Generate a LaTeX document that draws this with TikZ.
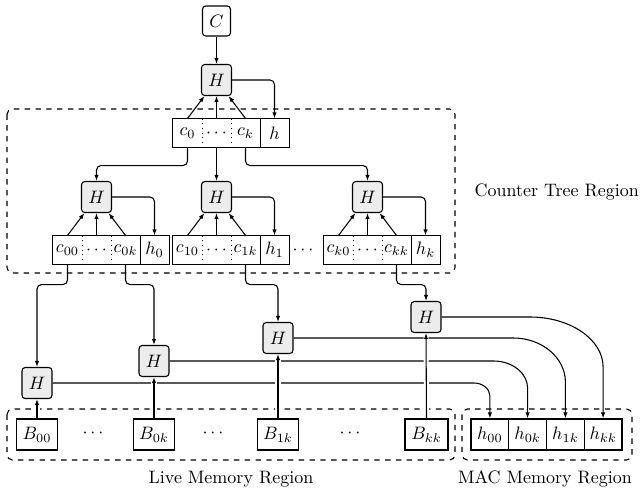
\documentclass[tikz,border=0pt]{standalone}
\usetikzlibrary{arrows.meta,calc}
\def\upx{0.5556pt}
\tikzset{
  every path/.style={line width=0.6pt},
  hbox/.style={draw, rounded corners=1.8pt, fill=gray!15, minimum width=30*\upx, minimum height=31*\upx, inner sep=0pt},
  cbox/.style={draw, rounded corners=1.8pt, fill=white, minimum width=28*\upx, minimum height=30*\upx, inner sep=0pt},
  cell/.style={minimum width=29*\upx, minimum height=28*\upx, inner sep=0pt},
  bbox/.style={draw, minimum width=41*\upx, minimum height=31*\upx, inner sep=0pt},
  mbox/.style={draw, minimum width=37.75*\upx, minimum height=31*\upx, inner sep=0pt},
  arr/.style={-{Latex[length=3.4pt,width=2.5pt]}},
  conn/.style={arr, rounded corners=2.5pt},
  region/.style={draw, dashed, rounded corners=3pt},
  halo/.style={draw=white, line width=2.8pt, shorten <=1pt, shorten >=1pt},
}
\begin{document}
\begin{tikzpicture}[x=0.5556pt, y=-0.5556pt]
\useasboundingbox (0,0) rectangle (644,490);

% regions
\draw[region] (7,109) rectangle (455,273);
\draw[region] (7,409) rectangle (455,460);
\draw[region] (462,409) rectangle (632,460);
\node[anchor=west] (lct) at (468,192) {Counter Tree Region};
\node (llm) at (231,479) {Live Memory Region};
\node (lmm) at (545,479) {MAC Memory Region};

% top
\node[cbox] (C) at (216.5,21) {$C$};
\node[hbox] (H0) at (216.5,80) {$H$};
\node[cell] (t0) at (187.5,133) {$c_0$};
\node[cell] (t1) at (216.5,133) {$\cdots$};
\node[cell] (t2) at (245.5,133) {$c_k$};
\node[cell] (th) at (274.5,133) {$h$};
\draw (t0.north west) rectangle (th.south east);
\draw[dotted] (t0.north east) -- (t0.south east);
\draw[dotted] (t1.north east) -- (t1.south east);
\draw (t2.north east) -- (t2.south east);
\draw[arr] (C) -- (H0);
\draw[arr] (t0.north) -- (H0);
\draw[arr] (t1.north) -- (H0);
\draw[arr] (t2.north) -- (H0);
\draw[conn] (H0.east) -| (th.north);

% level 2 hashes
\node[hbox] (HA) at (96.5,197) {$H$};
\node[hbox] (HB) at (216.5,197) {$H$};
\node[hbox] (HC) at (367.5,197) {$H$};
\draw[conn] (t0.south) -- ++(0,18) -| (HA.north);
\draw[arr] (t1.south) -- (HB.north);
\draw[conn] (t2.south) -- ++(0,18) -| (HC.north);

% level 2 arrays
\node[cell] (a0) at (67.5,250) {$c_{00}$};
\node[cell] (a1) at (96.5,250) {$\cdots$};
\node[cell] (a2) at (125.5,250) {$c_{0k}$};
\node[cell] (ah) at (154.5,250) {$h_0$};
\node[cell] (b0) at (187.5,250) {$c_{10}$};
\node[cell] (b1) at (216.5,250) {$\cdots$};
\node[cell] (b2) at (245.5,250) {$c_{1k}$};
\node[cell] (bh) at (274.5,250) {$h_1$};
\node[cell] (d0) at (338.5,250) {$c_{k0}$};
\node[cell] (d1) at (367.5,250) {$\cdots$};
\node[cell] (d2) at (396.5,250) {$c_{kk}$};
\node[cell] (dh) at (425.5,250) {$h_k$};
\node (dots1) at (303,250) {$\cdots$};
\foreach \p in {a,b,d}{
  \draw (\p0.north west) rectangle (\p h.south east);
  \draw[dotted] (\p0.north east) -- (\p0.south east);
  \draw[dotted] (\p1.north east) -- (\p1.south east);
  \draw (\p2.north east) -- (\p2.south east);
}
\foreach \p/\q in {a/HA,b/HB,d/HC}{
  \draw[arr] (\p0.north) -- (\q);
  \draw[arr] (\p1.north) -- (\q);
  \draw[arr] (\p2.north) -- (\q);
  \draw[conn] (\q.east) -| (\p h.north);
}

% bottom hashes
\node[hbox] (L1) at (37,383) {$H$};
\node[hbox] (L2) at (154,361) {$H$};
\node[hbox] (L3) at (278,338) {$H$};
\node[hbox] (L4) at (426,317) {$H$};
\draw[conn] (a0.south) -- ++(0,20) -| (L1.north);
\draw[conn] (a2.south) -- ++(0,20) -| (L2.north);
\draw[conn] (b2.south) -- ++(0,20) -| (L3.north);
\draw[conn] (d2.south) -- ++(0,20) -| (L4.north);

% memory blocks
\node[bbox] (B0) at (37,434.5) {$B_{00}$};
\node[bbox] (B1) at (154,434.5) {$B_{0k}$};
\node[bbox] (B2) at (278,434.5) {$B_{1k}$};
\node[bbox, minimum width=43*\upx] (B3) at (426.5,434.5) {$B_{kk}$};
\node (dots2) at (93,433) {$\cdots$};
\node (dots3) at (213,433) {$\cdots$};
\node (dots4) at (350,433) {$\cdots$};

% MAC blocks
\node[mbox] (M0) at (489.9,434.5) {$h_{00}$};
\node[mbox] (M1) at (527.6,434.5) {$h_{0k}$};
\node[mbox] (M2) at (565.4,434.5) {$h_{1k}$};
\node[mbox] (M3) at (603.1,434.5) {$h_{kk}$};

% curved MAC connectors
\foreach \l/\m/\dx/\dy in {L1/M0/16/13, L2/M1/34/27, L3/M2/52/44, L4/M3/73/50}{
  \draw[arr] (\l.east) -- ($(\l.east -| \m.north)+(-\dx,0)$)
    .. controls +(0.55*\dx,0) and +(0,-0.55*\dy) .. ($(\l.east -| \m.north)+(0,\dy)$)
    -- (\m.north);
}

% block to hash arrows with crossing gaps
\foreach \b/\l in {B0/L1,B1/L2,B2/L3,B3/L4}{
  \draw[halo] (\b.north) -- (\l.south);
  \draw[arr] (\b.north) -- (\l.south);
}
\end{tikzpicture}
\end{document}
